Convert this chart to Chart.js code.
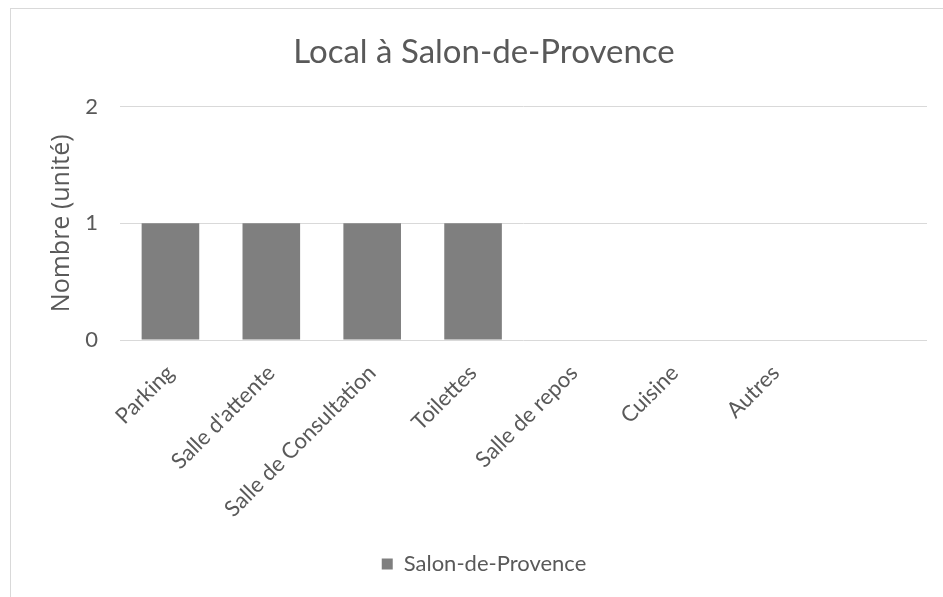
<!DOCTYPE html>
<html lang="fr">
<head>
<meta charset="utf-8">
<title>Local à Salon-de-Provence</title>
<script src="https://cdn.jsdelivr.net/npm/chart.js@4/dist/chart.umd.min.js"></script>
<style>
  html, body { margin: 0; padding: 0; background: #fff; overflow: hidden; }
  #frame {
    position: absolute; left: 10px; top: 8px; width: 1000px; height: 1000px;
    border-left: 1px solid #d9d9d9; border-top: 1px solid #d9d9d9;
  }
  #chart { position: absolute; left: 0; top: 0; }
</style>
</head>
<body>
<div id="frame"></div>
<canvas id="chart" width="943" height="597"></canvas>
<script>
// DATA

const categories = ["Parking", "Salle d'attente", "Salle de Consultation", "Toilettes", "Salle de repos", "Cuisine", "Autres", ""];
const seriesName = "Salon-de-Provence";
const seriesValues = [1, 1, 1, 1, 0, 0, 0, 0];
const yTicks = [0, 1, 2];

// STYLE

const textColor = "#595959";
const gridColor = "#d9d9d9";
const barColor = "#7f7f7f";

// CHART

const ctx = document.getElementById("chart").getContext("2d");

new Chart(ctx, {
  type: "bar",
  data: {
    labels: categories,
    datasets: [{
      label: seriesName,
      data: seriesValues,
      backgroundColor: barColor,
      borderWidth: 0,
      barPercentage: 0.571,
      categoryPercentage: 1
    }]
  },
  options: {
    responsive: false,
    animation: false,
    devicePixelRatio: 1,
    layout: { padding: { left: 41, right: 16, top: 0, bottom: 12 } },
    plugins: {
      title: {
        display: true,
        text: "Local à Salon-de-Provence",
        color: textColor,
        font: { family: "Lato", size: 33, weight: "normal" },
        padding: { top: 33, bottom: 34 }
      },
      legend: {
        position: "bottom",
        labels: {
          color: textColor,
          font: { family: "Lato", size: 22 },
          boxWidth: 11,
          boxHeight: 11,
          padding: 9
        }
      },
      tooltip: { enabled: false }
    },
    scales: {
      x: {
        grid: { display: false },
        border: { display: false },
        ticks: {
          color: textColor,
          font: { family: "Lato", size: 22 },
          minRotation: 45,
          maxRotation: 45,
          autoSkip: false,
          padding: 12
        },
        afterFit: (scale) => { scale.height = 204; }
      },
      y: {
        min: yTicks[0],
        max: yTicks[yTicks.length - 1],
        grid: { color: gridColor, lineWidth: 1, drawTicks: false },
        border: { display: false },
        afterBuildTicks: (scale) => { scale.ticks = yTicks.map(v => ({ value: v })); },
        ticks: {
          color: textColor,
          font: { family: "Lato", size: 22 },
          padding: 22
        },
        title: {
          display: true,
          text: "Nombre (unité)",
          color: textColor,
          font: { family: "Open Sans", size: 25 },
          padding: { top: 6, bottom: 7 }
        },
        afterFit: (scale) => { scale.width = 79; }
      }
    }
  }
});
</script>
</body>
</html>
